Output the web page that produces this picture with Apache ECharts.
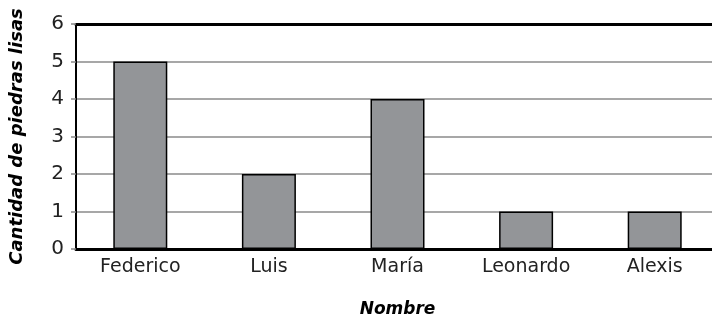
<!DOCTYPE html>
<html><head><meta charset="utf-8">
<script src="https://cdn.jsdelivr.net/npm/echarts@6/dist/echarts.min.js"></script>
<style>html,body{margin:0;padding:0;background:#fff}#c{width:712px;height:317px}</style>
</head><body><div id="c"></div>
<script>
const categories = ['Federico', 'Luis', 'María', 'Leonardo', 'Alexis'];
const values = [5, 2, 4, 1, 1];
const yTicks = [0, 1, 2, 3, 4, 5, 6];
const yTitle = 'Cantidad de piedras lisas';
const xTitle = 'Nombre';

const chart = echarts.init(document.getElementById('c'));
const font = 'DejaVu Sans';
chart.setOption({
  animation: false,
  grid: { left: 76, width: 643, top: 24, height: 225, containLabel: false, outerBoundsMode: 'none' },
  xAxis: [{
    type: 'category', data: categories,
    axisLine: { lineStyle: { color: '#000', width: 3 } },
    axisTick: { show: false },
    axisLabel: { color: '#222', fontSize: 19, fontFamily: font, margin: 9 },
    name: xTitle, nameLocation: 'middle', nameGap: 52,
    nameTextStyle: { fontSize: 17, fontStyle: 'italic', fontWeight: 'bold', color: '#000', fontFamily: font }
  }, {
    type: 'category', data: categories, position: 'top',
    axisLine: { lineStyle: { color: '#000', width: 3 } },
    axisTick: { show: false }, axisLabel: { show: false }
  }],
  yAxis: {
    type: 'value', min: 0, max: 6, interval: 1,
    axisLine: { show: true, lineStyle: { color: '#000', width: 2 } },
    axisTick: { show: true, length: 5, lineStyle: { color: '#888', width: 1.5 } },
    splitLine: { lineStyle: { color: '#8a8a8a', width: 1.5 } },
    axisLabel: { color: '#222', fontSize: 20, fontFamily: font, margin: 12,
      formatter: v => yTicks.includes(v) ? String(v) : '' },
    name: yTitle, nameLocation: 'middle', nameGap: 50,
    nameTextStyle: { fontSize: 18, fontStyle: 'italic', fontWeight: 'bold', color: '#000', fontFamily: font }
  },
  series: [{
    type: 'bar', data: values, barWidth: 54,
    itemStyle: { color: '#939598', borderColor: '#000', borderWidth: 1.5 }
  }]
});
</script></body></html>
